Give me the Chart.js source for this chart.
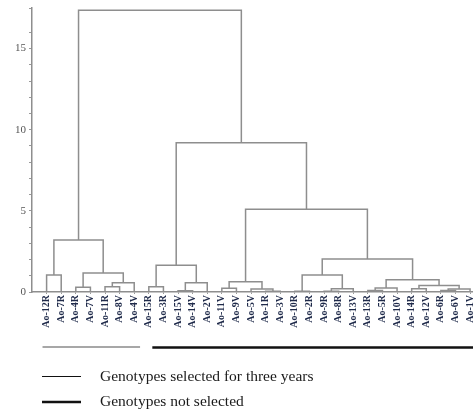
<!DOCTYPE html>
<html>
<head>
<meta charset="utf-8">
<script src="https://cdn.jsdelivr.net/npm/chart.js@4"></script>
<style>
  html, body { margin: 0; padding: 0; background: #fff; }
</style>
</head>
<body>
<canvas id="dendro" width="473" height="410"></canvas>
<script>
// leaf order as it appears on the x axis
const leaves = ['Ao-12R', 'Ao-7R', 'Ao-4R', 'Ao-7V', 'Ao-11R', 'Ao-8V', 'Ao-4V',
  'Ao-15R', 'Ao-3R', 'Ao-15V', 'Ao-14V', 'Ao-2V', 'Ao-11V', 'Ao-9V', 'Ao-5V', 'Ao-1R',
  'Ao-3V', 'Ao-10R', 'Ao-2R', 'Ao-9R', 'Ao-8R', 'Ao-13V', 'Ao-13R', 'Ao-5R', 'Ao-10V',
  'Ao-14R', 'Ao-12V', 'Ao-6R', 'Ao-6V', 'Ao-1V'];

// linkage: [child a, child b, height]; new clusters get ids 30, 31, ...
const merges = [
  [0, 1, 1.05], [2, 3, 0.3], [4, 5, 0.33], [32, 6, 0.57], [31, 33, 1.17], [30, 34, 3.2],
  [7, 8, 0.33], [9, 10, 0.08], [37, 11, 0.57], [36, 38, 1.65],
  [12, 13, 0.23], [15, 16, 0.05], [14, 41, 0.18], [40, 42, 0.63],
  [17, 18, 0.05], [19, 20, 0.05], [45, 21, 0.2], [44, 46, 1.05],
  [22, 23, 0.1], [48, 24, 0.25], [25, 26, 0.2], [27, 28, 0.1], [51, 29, 0.18],
  [50, 52, 0.4], [49, 53, 0.76], [47, 54, 2.04], [43, 55, 5.1], [39, 56, 9.2], [35, 57, 17.36]
];

const yTicks = [0, 5, 10, 15];
const groupRanges = [[0, 6], [7, 29]];
const groupNames = ['Genotypes selected for three years', 'Genotypes not selected'];

// ── build the U-shaped links from the linkage ──
const nodeX = leaves.map((_, i) => i);
const nodeH = leaves.map(() => 0);
const links = merges.map(([a, b, h]) => {
  nodeX.push((nodeX[a] + nodeX[b]) / 2);
  nodeH.push(h);
  return [
    { x: nodeX[a], y: nodeH[a] }, { x: nodeX[a], y: h },
    { x: nodeX[b], y: h }, { x: nodeX[b], y: nodeH[b] }
  ];
});

const LINK = '#8e8e8e';

// group bars under the labels + the legend at the bottom
const groupsPlugin = {
  id: 'groups',
  afterDraw(chart) {
    const { ctx, scales: { x } } = chart;
    ctx.save();
    // bars under the leaf labels
    ctx.strokeStyle = '#8a8a8a';
    ctx.lineWidth = 1.5;
    ctx.beginPath();
    ctx.moveTo(x.getPixelForValue(groupRanges[0][0] - 0.28), 347);
    ctx.lineTo(x.getPixelForValue(groupRanges[0][1] + 0.4), 347);
    ctx.stroke();
    ctx.strokeStyle = '#111';
    ctx.lineWidth = 2.5;
    ctx.beginPath();
    ctx.moveTo(x.getPixelForValue(groupRanges[1][0] + 0.24), 347.5);
    ctx.lineTo(chart.width, 347.5);
    ctx.stroke();
    // legend
    const rows = [376.5, 402];
    const widths = [1, 2.5];
    ctx.font = '15.5px "Liberation Serif"';
    ctx.textBaseline = 'middle';
    ctx.fillStyle = '#1a1a1a';
    groupNames.forEach((name, i) => {
      ctx.strokeStyle = '#111';
      ctx.lineWidth = widths[i];
      ctx.beginPath();
      ctx.moveTo(42, rows[i]);
      ctx.lineTo(81, rows[i]);
      ctx.stroke();
      ctx.fillText(name, 100, rows[i]);
    });
    ctx.restore();
  }
};

new Chart(document.getElementById('dendro'), {
  type: 'line',
  data: {
    datasets: links.map(pts => ({
      data: pts, borderColor: LINK, borderWidth: 1.5, pointRadius: 0, tension: 0, fill: false
    }))
  },
  options: {
    responsive: false,
    animation: false,
    layout: { padding: { top: 8, bottom: 72, left: 0, right: 0 } },
    plugins: { legend: { display: false }, tooltip: { enabled: false } },
    scales: {
      x: {
        type: 'linear', min: -1, max: 29.2,
        afterBuildTicks: s => { s.ticks = leaves.map((_, i) => ({ value: i })); },
        afterFit: s => { s.height = 46; s.paddingLeft = 0; s.paddingRight = 0; },
        grid: { drawOnChartArea: false, tickLength: 2, color: '#999' },
        border: { color: LINK, width: 1.5 },
        ticks: {
          autoSkip: false, minRotation: 90, maxRotation: 90, padding: 1,
          color: '#1f2a4a',
          font: { family: 'Liberation Serif', size: 10, weight: 'bold' },
          callback: v => leaves[v] ?? ''
        }
      },
      y: {
        min: 0, max: 17.5,
        afterFit: s => { s.width = 32; s.paddingTop = 0; s.paddingBottom = 0; },
        grid: { drawOnChartArea: false, tickLength: 3, color: '#999' },
        border: { color: LINK, width: 1.5 },
        ticks: {
          stepSize: 1, padding: 3, color: '#555',
          font: { family: 'Liberation Serif', size: 11 },
          callback: v => yTicks.includes(v) ? v : ''
        }
      }
    }
  },
  plugins: [groupsPlugin]
});
</script>
</body>
</html>
